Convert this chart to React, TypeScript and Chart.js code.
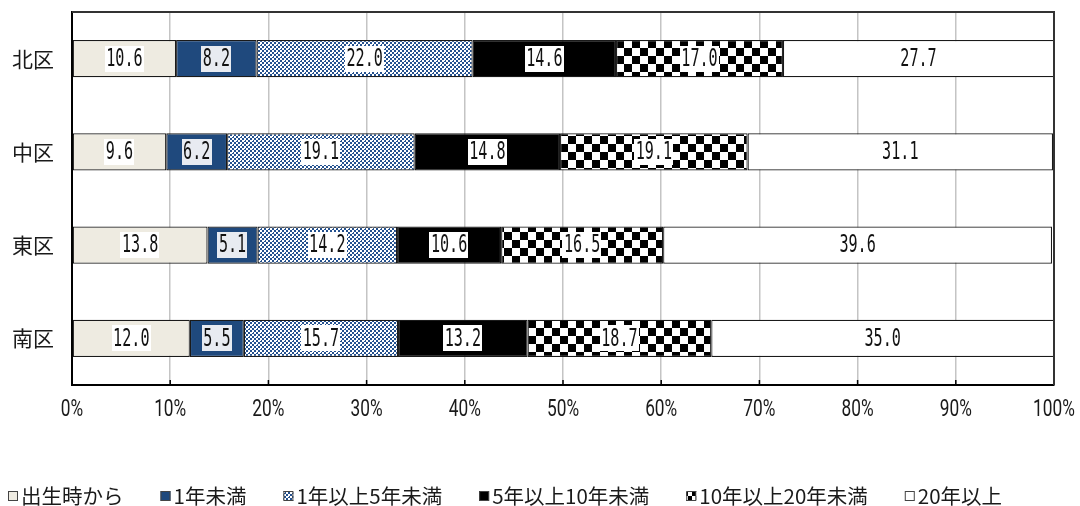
import { useEffect, useRef } from "react";
import { Chart, registerables } from "chart.js";

Chart.register(...registerables);

// Residence-duration shares (%) by ward
const wards = ["北区", "中区", "東区", "南区"];
const seriesNames = [
  "出生時から",
  "1年未満",
  "1年以上5年未満",
  "5年以上10年未満",
  "10年以上20年未満",
  "20年以上",
];
const sinceBirth = [10.6, 9.6, 13.8, 12.0];
const underOneYear = [8.2, 6.2, 5.1, 5.5];
const oneToFiveYears = [22.0, 19.1, 14.2, 15.7];
const fiveToTenYears = [14.6, 14.8, 10.6, 13.2];
const tenToTwentyYears = [17.0, 19.1, 16.5, 18.7];
const twentyYearsPlus = [27.7, 31.1, 39.6, 35.0];
const percentTicks = [0, 10, 20, 30, 40, 50, 60, 70, 80, 90, 100];
const percentTickLabels = percentTicks.map((v) => `${v}%`);

const W = 1080;
const H = 506;

function makeTile(size: number, paint: (g: CanvasRenderingContext2D) => void) {
  const c = document.createElement("canvas");
  c.width = size;
  c.height = size;
  const g = c.getContext("2d")!;
  paint(g);
  return c;
}

// fine blue lattice
const blueLatticeTile = () =>
  makeTile(8, (g) => {
    g.fillStyle = "#ffffff";
    g.fillRect(0, 0, 8, 8);
    g.fillStyle = "#24518f";
    for (let y = 0; y < 8; y++) {
      for (let x = 0; x < 8; x++) {
        if (((x >> 1) + (y >> 1)) % 2 === 0) g.fillRect(x, y, 1, 1);
      }
    }
    g.fillStyle = "#ffffff";
    g.fillRect(0, 0, 1, 1);
    g.fillRect(4, 4, 1, 1);
  });

// black/white checkerboard
const checkerTile = (cell: number) =>
  makeTile(cell * 2, (g) => {
    g.fillStyle = "#ffffff";
    g.fillRect(0, 0, cell * 2, cell * 2);
    g.fillStyle = "#000000";
    g.fillRect(0, 0, cell, cell);
    g.fillRect(cell, cell, cell, cell);
  });

export default function App() {
  const canvasRef = useRef<HTMLCanvasElement | null>(null);

  useEffect(() => {
    const canvas = canvasRef.current;
    if (!canvas) return;
    const ctx0 = canvas.getContext("2d")!;
    const bluePattern = ctx0.createPattern(blueLatticeTile(), "repeat")!;
    const checkerPattern = ctx0.createPattern(checkerTile(8), "repeat")!;
    const smallChecker = ctx0.createPattern(checkerTile(4), "repeat")!;

    const fills: (string | CanvasPattern)[] = [
      "#eeebe1",
      "#1f497d",
      bluePattern,
      "#000000",
      checkerPattern,
      "#ffffff",
    ];
    const legendFills: (string | CanvasPattern)[] = [
      "#eeebe1",
      "#1f497d",
      bluePattern,
      "#000000",
      smallChecker,
      "#ffffff",
    ];
    const labelBoxes = ["#ffffff", "#e8ebf1", "#ffffff", "#ffffff", "#ffffff", "#ffffff"];
    const values = [
      sinceBirth,
      underOneYear,
      oneToFiveYears,
      fiveToTenYears,
      tenToTwentyYears,
      twentyYearsPlus,
    ];

    const overlay = {
      id: "overlay",
      afterDatasetsDraw(chart: any) {
        const { ctx, chartArea: a, scales } = chart;
        const xs = scales.x;
        ctx.save();

        // short inner tick marks on the bottom axis
        ctx.strokeStyle = "#000000";
        ctx.lineWidth = 1.5;
        percentTicks.forEach((v) => {
          const px = xs.getPixelForValue(v);
          ctx.beginPath();
          ctx.moveTo(px, a.bottom);
          ctx.lineTo(px, a.bottom - 5);
          ctx.stroke();
        });

        // top and right frame
        ctx.strokeStyle = "#333333";
        ctx.lineWidth = 2;
        ctx.beginPath();
        ctx.moveTo(a.left, a.top);
        ctx.lineTo(a.right, a.top);
        ctx.lineTo(a.right, a.bottom);
        ctx.stroke();

        // value labels on each segment
        ctx.textAlign = "center";
        ctx.textBaseline = "middle";
        ctx.font = "24px 'DejaVu Sans Mono'";
        const sx = 0.63;
        chart.data.datasets.forEach((ds: any, di: number) => {
          const meta = chart.getDatasetMeta(di);
          meta.data.forEach((bar: any, i: number) => {
            const p = bar.getProps(["x", "y", "base"], true);
            const right = Math.min(p.x, a.right);
            const cx = (right + p.base) / 2;
            const text = Number(ds.data[i]).toFixed(1);
            const tw = ctx.measureText(text).width * sx;
            ctx.fillStyle = labelBoxes[di];
            ctx.fillRect(Math.round(cx - tw / 2 - 1.5), Math.round(p.y - 13), Math.round(tw + 3), 26);
            ctx.fillStyle = "#111111";
            ctx.save();
            ctx.translate(cx, p.y + 1);
            ctx.scale(sx, 1);
            ctx.fillText(text, 0, 0);
            ctx.restore();
          });
        });

        // percentage tick labels
        ctx.font = "24px Roboto";
        ctx.fillStyle = "#1a1a1a";
        percentTicks.forEach((v, i) => {
          const px = xs.getPixelForValue(v);
          ctx.save();
          ctx.translate(px, 410);
          ctx.scale(0.72, 1);
          ctx.fillText(percentTickLabels[i], 0, 0);
          ctx.restore();
        });

        // legend row
        ctx.font = "20.5px 'Noto Sans CJK JP'";
        ctx.textAlign = "left";
        let lx = 8;
        const ly = 496;
        chart.data.datasets.forEach((ds: any, di: number) => {
          ctx.fillStyle = legendFills[di];
          ctx.fillRect(lx, ly - 5, 10, 10);
          ctx.strokeStyle = "#444444";
          ctx.lineWidth = 1;
          ctx.strokeRect(lx + 0.5, ly - 4.5, 9, 9);
          ctx.fillStyle = "#1a1a1a";
          ctx.fillText(ds.label, lx + 13, ly);
          lx += 13 + ctx.measureText(ds.label).width + 37;
        });

        ctx.restore();
      },
    };

    const chart = new Chart(canvas, {
      type: "bar",
      data: {
        labels: wards,
        datasets: seriesNames.map((name, i) => ({
          label: name,
          data: values[i],
          backgroundColor: fills[i] as any,
          borderColor: "#1a1a1a",
          borderWidth: 1.2,
          borderSkipped: false,
          barPercentage: 0.4,
          categoryPercentage: 1,
        })),
      },
      options: {
        indexAxis: "y",
        responsive: false,
        animation: false,
        devicePixelRatio: 1,
        layout: { padding: { left: 0, right: 26, top: 12, bottom: 121 } },
        plugins: {
          legend: { display: false },
          tooltip: { enabled: false },
        },
        scales: {
          x: {
            stacked: true,
            min: 0,
            max: 100,
            ticks: { display: false, stepSize: 10 },
            grid: { color: "#c4c4c4", lineWidth: 1.5, drawTicks: false },
            border: { color: "#000000", width: 2 },
            afterFit: (s: any) => {
              s.height = 0;
              s.paddingLeft = 0;
              s.paddingRight = 0;
            },
          },
          y: {
            stacked: true,
            ticks: {
              padding: 18,
              color: "#1a1a1a",
              font: { family: "'Noto Sans CJK JP'", size: 21 },
            },
            grid: { display: false, drawTicks: false },
            border: { color: "#000000", width: 2 },
            afterFit: (s: any) => {
              s.width = 72;
              s.paddingTop = 0;
              s.paddingBottom = 0;
            },
          },
        },
      },
      plugins: [overlay],
    });

    return () => chart.destroy();
  }, []);

  return (
    <div style={{ position: "fixed", left: 0, top: 0, width: W, height: H, background: "#ffffff" }}>
      <canvas ref={canvasRef} width={W} height={H} style={{ display: "block" }} />
    </div>
  );
}
